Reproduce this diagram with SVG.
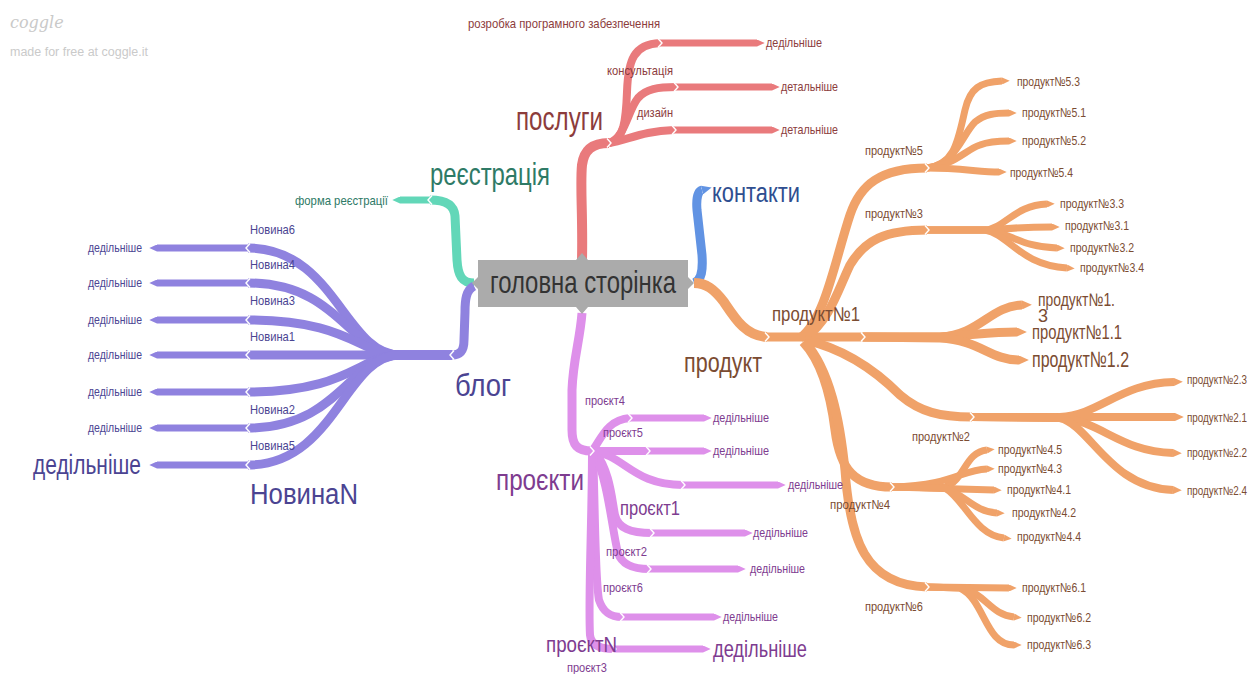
<svg xmlns="http://www.w3.org/2000/svg" width="1259" height="674" viewBox="0 0 1259 674">
<defs>
<style>
.br{fill:none;stroke-linecap:butt;stroke-linejoin:round}
.red{stroke:#e97a7c}.teal{stroke:#62d7b8}.pur{stroke:#8f82df}.vio{stroke:#de90ea}.blue{stroke:#6193e3}.org{stroke:#f0a269}
.w10{stroke-width:10}.w9{stroke-width:9}.w8{stroke-width:8}.w7{stroke-width:7}.w6{stroke-width:6}
text{font-family:"Liberation Sans Narrow","Liberation Sans",Arial,sans-serif}
.s{font-size:13px}
.cR{fill:#8c3c3c}.cT{fill:#2e7a66}.cP{fill:#4b4492}.cV{fill:#7e3c90}.cB{fill:#2f4e90}.cO{fill:#7b4c32}
.notch{fill:none;stroke:#fff;stroke-width:1.4}
</style>
<marker id="mR" viewBox="0 0 10 10" refX="0" refY="5" markerWidth="1.1" markerHeight="1" preserveAspectRatio="none" orient="auto"><path d="M0,0L10,5L0,10z" fill="#e97a7c"/></marker>
<marker id="mT" viewBox="0 0 10 10" refX="0" refY="5" markerWidth="1.1" markerHeight="1" preserveAspectRatio="none" orient="auto"><path d="M0,0L10,5L0,10z" fill="#62d7b8"/></marker>
<marker id="mP" viewBox="0 0 10 10" refX="0" refY="5" markerWidth="1.1" markerHeight="1" preserveAspectRatio="none" orient="auto"><path d="M0,0L10,5L0,10z" fill="#8f82df"/></marker>
<marker id="mV" viewBox="0 0 10 10" refX="0" refY="5" markerWidth="1.1" markerHeight="1" preserveAspectRatio="none" orient="auto"><path d="M0,0L10,5L0,10z" fill="#de90ea"/></marker>
<marker id="mB" viewBox="0 0 10 10" refX="0" refY="5" markerWidth="1.1" markerHeight="1" preserveAspectRatio="none" orient="auto"><path d="M0,0L10,5L0,10z" fill="#6193e3"/></marker>
<marker id="mO" viewBox="0 0 10 10" refX="0" refY="5" markerWidth="1.1" markerHeight="1" preserveAspectRatio="none" orient="auto"><path d="M0,0L10,5L0,10z" fill="#f0a269"/></marker>
<path id="chR" class="notch" d="M-2,-4.5L2,0L-2,4.5"/>
<path id="chL" class="notch" d="M2,-4.5L-2,0L2,4.5"/>
</defs>
<rect width="1259" height="674" fill="#fff"/>

<g id="watermark">
<text x="10" y="28" font-size="16" font-style="italic" fill="#c9c9c9" style="font-family:'DejaVu Serif',serif">coggle</text>
<text x="10" y="56" font-size="12" fill="#cacaca" textLength="138" lengthAdjust="spacingAndGlyphs">made for free at coggle.it</text>
</g>

<g id="connectors">
<!-- послуги -->
<path class="br red w10" d="M582,260 C583,215 580,185 582,165 C584,150 592,143 609,143"/>
<path class="br red w8" d="M609,143 C624,140 626,120 627,92 C628,60 634,44 660,43"/>
<path class="br red w7" d="M660,43 L757,43" marker-end="url(#mR)"/>
<path class="br red w8" d="M609,143 C625,138 628,110 638,98 C646,89 658,87 676,87"/>
<path class="br red w7" d="M676,87 L772,87" marker-end="url(#mR)"/>
<path class="br red w8" d="M609,143 C628,140 642,131 674,130"/>
<path class="br red w7" d="M674,130 L772,130" marker-end="url(#mR)"/>
<!-- реєстрація -->
<path class="br teal w9" d="M474,283 C462,283 458,276 457,260 L455,216 C454,205 446,200 430,200"/>
<path class="br teal w7" d="M430,200 L400,200" marker-end="url(#mT)"/>
<!-- блог -->
<path class="br pur w9" d="M474,286 C466,290 465,300 465,312 L464,340 C464,350 461,355 452,355"/>
<path class="br pur w9" d="M452,355 L400,355 C345,355 335,248 248,248"/>
<path class="br pur w9" d="M452,355 L400,355 C350,355 340,283 248,283"/>
<path class="br pur w9" d="M452,355 L400,355 C360,355 350,320 248,320"/>
<path class="br pur w9" d="M452,355 L248,355"/>
<path class="br pur w9" d="M452,355 L400,355 C360,355 350,392 248,392"/>
<path class="br pur w9" d="M452,355 L400,355 C350,355 340,428 248,428"/>
<path class="br pur w9" d="M452,355 L400,355 C345,355 335,465 248,465"/>
<path class="br pur w7" d="M248,248 L157,248" marker-end="url(#mP)"/>
<path class="br pur w7" d="M248,283 L157,283" marker-end="url(#mP)"/>
<path class="br pur w7" d="M248,320 L157,320" marker-end="url(#mP)"/>
<path class="br pur w7" d="M248,355 L157,355" marker-end="url(#mP)"/>
<path class="br pur w7" d="M248,392 L157,392" marker-end="url(#mP)"/>
<path class="br pur w7" d="M248,428 L157,428" marker-end="url(#mP)"/>
<path class="br pur w7" d="M248,465 L157,465" marker-end="url(#mP)"/>
<!-- контакти -->
<path class="br blue w9" d="M694,283 C702,280 703,270 702,255 L697,210 C696,198 698,191 702,190" marker-end="url(#mB)"/>
<!-- проєкти -->
<path class="br vio w9" d="M582,313 C580,340 573,360 572,390 L572,430 C572,445 577,451 592,451"/>
<path class="br vio w8" d="M592,451 C601,440 606,420 630,418"/>
<path class="br vio w7" d="M630,418 L704,418" marker-end="url(#mV)"/>
<path class="br vio w8" d="M592,451 L648,451"/>
<path class="br vio w7" d="M648,451 L704,451" marker-end="url(#mV)"/>
<path class="br vio w8" d="M592,451 C625,455 632,485 683,485"/>
<path class="br vio w7" d="M683,485 L778,485" marker-end="url(#mV)"/>
<path class="br vio w8" d="M595,452 C610,470 612,500 615,515 C618,528 630,533 652,533"/>
<path class="br vio w7" d="M652,533 L745,533" marker-end="url(#mV)"/>
<path class="br vio w8" d="M594,452 C608,480 612,530 618,553 C622,565 633,569 649,569"/>
<path class="br vio w7" d="M649,569 L738,569" marker-end="url(#mV)"/>
<path class="br vio w8" d="M593,452 C595,500 595,580 599,600 C603,612 610,617 622,617"/>
<path class="br vio w7" d="M622,617 L714,617" marker-end="url(#mV)"/>
<path class="br vio w8" d="M592,452 C592,520 588,600 590,635 C591,645 600,649 614,649"/>
<path class="br vio w7" d="M614,649 L703,649" marker-end="url(#mV)"/>
<!-- продукт -->
<path class="br org w10" d="M694,283 C706,283 714,289 724,302 C736,320 746,336 767,337"/>
<path class="br org w9" d="M767,337 L863,337"/>
<!-- №5 -->
<path class="br org w9" d="M800,338 C825,320 835,260 850,215 C860,185 880,168 927,168"/>
<path class="br org w7" d="M927,168 C955,165 958,140 965,110 C970,88 980,82 1002,81" marker-end="url(#mO)"/>
<path class="br org w7" d="M927,168 C955,165 962,135 975,122 C985,114 995,113 1009,113" marker-end="url(#mO)"/>
<path class="br org w7" d="M927,168 C955,165 965,150 980,145 C990,141 1000,141 1009,141" marker-end="url(#mO)"/>
<path class="br org w7" d="M927,168 C960,168 980,172 999,172" marker-end="url(#mO)"/>
<!-- №3 -->
<path class="br org w9" d="M805,338 C830,320 838,290 850,265 C865,240 885,230 927,230"/>
<path class="br org w7" d="M927,230 L985,230 C1005,228 1015,205 1047,204" marker-end="url(#mO)"/>
<path class="br org w7" d="M927,230 L990,230 C1010,228 1030,227 1052,227" marker-end="url(#mO)"/>
<path class="br org w7" d="M927,230 L985,230 C1010,232 1020,247 1057,248" marker-end="url(#mO)"/>
<path class="br org w7" d="M927,230 L985,230 C1010,235 1020,265 1067,268" marker-end="url(#mO)"/>
<!-- №1 -->
<path class="br org w9" d="M863,337 L940,337 C980,335 990,306 1022,305" marker-end="url(#mO)"/>
<path class="br org w9" d="M863,337 L940,337 C975,335 990,332 1017,332" marker-end="url(#mO)"/>
<path class="br org w9" d="M863,337 L940,338 C980,340 990,360 1019,360" marker-end="url(#mO)"/>
<!-- №2 -->
<path class="br org w9" d="M805,340 C850,350 880,375 900,395 C920,412 940,417 972,417"/>
<path class="br org w8" d="M972,417 L1060,417 C1100,415 1120,383 1174,382" marker-end="url(#mO)"/>
<path class="br org w8" d="M972,417 L1175,417" marker-end="url(#mO)"/>
<path class="br org w8" d="M972,417 L1060,418 C1100,420 1120,452 1173,453" marker-end="url(#mO)"/>
<path class="br org w8" d="M972,417 L1060,418 C1090,425 1110,488 1173,490" marker-end="url(#mO)"/>
<!-- №4 -->
<path class="br org w9" d="M803,342 C820,360 830,390 835,430 C840,470 855,487 892,487"/>
<path class="br org w7" d="M892,487 L945,487 C965,480 965,452 987,450" marker-end="url(#mO)"/>
<path class="br org w7" d="M892,487 C955,485 960,470 987,469" marker-end="url(#mO)"/>
<path class="br org w7" d="M892,487 L994,490" marker-end="url(#mO)"/>
<path class="br org w7" d="M892,487 L945,488 C965,495 975,512 997,513" marker-end="url(#mO)"/>
<path class="br org w7" d="M892,487 L945,488 C965,500 975,535 1004,538" marker-end="url(#mO)"/>
<!-- №6 -->
<path class="br org w9" d="M805,342 C830,370 840,420 845,470 C850,540 865,585 927,587"/>
<path class="br org w7" d="M927,587 L1009,588" marker-end="url(#mO)"/>
<path class="br org w7" d="M927,587 L960,588 C985,592 990,615 1014,617" marker-end="url(#mO)"/>
<path class="br org w7" d="M927,587 L960,588 C985,600 985,645 1014,645" marker-end="url(#mO)"/>
<!-- notches -->
<use href="#chR" x="609" y="143"/><use href="#chR" x="660" y="43"/><use href="#chR" x="676" y="87"/><use href="#chR" x="674" y="130"/>
<use href="#chL" x="430" y="200"/><use href="#chL" x="452" y="355"/>
<use href="#chL" x="248" y="248"/><use href="#chL" x="248" y="283"/><use href="#chL" x="248" y="320"/><use href="#chL" x="248" y="355"/><use href="#chL" x="248" y="392"/><use href="#chL" x="248" y="428"/><use href="#chL" x="248" y="465"/>
<use href="#chR" x="592" y="451"/><use href="#chR" x="630" y="418"/><use href="#chR" x="648" y="451"/><use href="#chR" x="683" y="485"/><use href="#chR" x="652" y="533"/><use href="#chR" x="649" y="569"/><use href="#chR" x="622" y="617"/><use href="#chR" x="614" y="649"/>
<use href="#chR" x="767" y="337"/><use href="#chR" x="863" y="337"/><use href="#chR" x="927" y="168"/><use href="#chR" x="927" y="230"/><use href="#chR" x="972" y="417"/><use href="#chR" x="892" y="487"/><use href="#chR" x="927" y="587"/>
</g>

<g id="node-center">
<path d="M478,260 L576,260 L582,253 L588,260 L688,260 L688,277 L694,283 L688,289 L688,307 L588,307 L582,314 L576,307 L478,307 L478,289 L472,283 L478,277 Z" fill="#ababab"/>
<text x="490" y="293" font-size="32" fill="#333" textLength="186" lengthAdjust="spacingAndGlyphs">головна сторінка</text>
</g>

<g id="node-poslugy">
<text x="516" y="130" font-size="34" class="cR" textLength="87" lengthAdjust="spacingAndGlyphs">послуги</text>
<text x="468" y="28" class="s cR" textLength="192" lengthAdjust="spacingAndGlyphs">розробка програмного забезпечення</text>
<text x="607" y="75" class="s cR" textLength="66" lengthAdjust="spacingAndGlyphs">консультація</text>
<text x="637" y="117" class="s cR" textLength="36" lengthAdjust="spacingAndGlyphs">дизайн</text>
<text x="766" y="47" class="s cR" textLength="56" lengthAdjust="spacingAndGlyphs">дедільніше</text>
<text x="781" y="91" class="s cR" textLength="57" lengthAdjust="spacingAndGlyphs">детальніше</text>
<text x="781" y="134" class="s cR" textLength="57" lengthAdjust="spacingAndGlyphs">детальніше</text>
</g>

<g id="node-reestracia">
<text x="430" y="185" font-size="32" class="cT" textLength="120" lengthAdjust="spacingAndGlyphs">реєстрація</text>
<text x="295" y="205" class="s cT" textLength="93" lengthAdjust="spacingAndGlyphs">форма реєстрації</text>
</g>

<g id="node-blog">
<text x="455" y="396" font-size="32" class="cP" textLength="56" lengthAdjust="spacingAndGlyphs">блог</text>
<text x="250" y="234" class="s cP" textLength="45" lengthAdjust="spacingAndGlyphs">Новина6</text>
<text x="250" y="269" class="s cP" textLength="45" lengthAdjust="spacingAndGlyphs">Новина4</text>
<text x="250" y="305" class="s cP" textLength="45" lengthAdjust="spacingAndGlyphs">Новина3</text>
<text x="250" y="341" class="s cP" textLength="45" lengthAdjust="spacingAndGlyphs">Новина1</text>
<text x="250" y="414" class="s cP" textLength="45" lengthAdjust="spacingAndGlyphs">Новина2</text>
<text x="250" y="450" class="s cP" textLength="45" lengthAdjust="spacingAndGlyphs">Новина5</text>
<text x="250" y="504" font-size="30" class="cP" textLength="108" lengthAdjust="spacingAndGlyphs">НовинаN</text>
<text x="88" y="252" class="s cP" textLength="54" lengthAdjust="spacingAndGlyphs">дедільніше</text>
<text x="88" y="287" class="s cP" textLength="54" lengthAdjust="spacingAndGlyphs">дедільніше</text>
<text x="88" y="324" class="s cP" textLength="54" lengthAdjust="spacingAndGlyphs">дедільніше</text>
<text x="88" y="359" class="s cP" textLength="54" lengthAdjust="spacingAndGlyphs">дедільніше</text>
<text x="88" y="396" class="s cP" textLength="54" lengthAdjust="spacingAndGlyphs">дедільніше</text>
<text x="88" y="432" class="s cP" textLength="54" lengthAdjust="spacingAndGlyphs">дедільніше</text>
<text x="33" y="474" font-size="28" class="cP" textLength="108" lengthAdjust="spacingAndGlyphs">дедільніше</text>
</g>

<g id="node-kontakty">
<text x="712" y="202" font-size="28" class="cB" textLength="88" lengthAdjust="spacingAndGlyphs">контакти</text>
</g>

<g id="node-proekty">
<text x="496" y="490" font-size="30" class="cV" textLength="88" lengthAdjust="spacingAndGlyphs">проєкти</text>
<text x="585" y="405" class="s cV" textLength="40" lengthAdjust="spacingAndGlyphs">проєкт4</text>
<text x="603" y="437" class="s cV" textLength="40" lengthAdjust="spacingAndGlyphs">проєкт5</text>
<text x="620" y="515" font-size="20" class="cV" textLength="60" lengthAdjust="spacingAndGlyphs">проєкт1</text>
<text x="606" y="556" class="s cV" textLength="41" lengthAdjust="spacingAndGlyphs">проєкт2</text>
<text x="603" y="592" class="s cV" textLength="40" lengthAdjust="spacingAndGlyphs">проєкт6</text>
<text x="546" y="652" font-size="22" class="cV" textLength="71" lengthAdjust="spacingAndGlyphs">проєктN</text>
<text x="567" y="672" class="s cV" textLength="40" lengthAdjust="spacingAndGlyphs">проєкт3</text>
<text x="713" y="422" class="s cV" textLength="56" lengthAdjust="spacingAndGlyphs">дедільніше</text>
<text x="713" y="455" class="s cV" textLength="56" lengthAdjust="spacingAndGlyphs">дедільніше</text>
<text x="788" y="489" class="s cV" textLength="55" lengthAdjust="spacingAndGlyphs">дедільніше</text>
<text x="753" y="537" class="s cV" textLength="55" lengthAdjust="spacingAndGlyphs">дедільніше</text>
<text x="750" y="573" class="s cV" textLength="55" lengthAdjust="spacingAndGlyphs">дедільніше</text>
<text x="723" y="621" class="s cV" textLength="55" lengthAdjust="spacingAndGlyphs">дедільніше</text>
<text x="713" y="657" font-size="24" class="cV" textLength="94" lengthAdjust="spacingAndGlyphs">дедільніше</text>
</g>

<g id="node-produkt">
<text x="684" y="372" font-size="28" class="cO" textLength="78" lengthAdjust="spacingAndGlyphs">продукт</text>
<text x="772" y="321" font-size="20" class="cO" textLength="88" lengthAdjust="spacingAndGlyphs">продукт№1</text>
<text x="865" y="155" class="s cO" textLength="58" lengthAdjust="spacingAndGlyphs">продукт№5</text>
<text x="865" y="218" class="s cO" textLength="58" lengthAdjust="spacingAndGlyphs">продукт№3</text>
<text x="912" y="441" class="s cO" textLength="58" lengthAdjust="spacingAndGlyphs">продукт№2</text>
<text x="830" y="509" class="s cO" textLength="60" lengthAdjust="spacingAndGlyphs">продукт№4</text>
<text x="865" y="611" class="s cO" textLength="58" lengthAdjust="spacingAndGlyphs">продукт№6</text>
<text x="1017" y="86" class="s cO" textLength="63" lengthAdjust="spacingAndGlyphs">продукт№5.3</text>
<text x="1022" y="117" class="s cO" textLength="64" lengthAdjust="spacingAndGlyphs">продукт№5.1</text>
<text x="1022" y="145" class="s cO" textLength="64" lengthAdjust="spacingAndGlyphs">продукт№5.2</text>
<text x="1010" y="177" class="s cO" textLength="63" lengthAdjust="spacingAndGlyphs">продукт№5.4</text>
<text x="1060" y="208" class="s cO" textLength="64" lengthAdjust="spacingAndGlyphs">продукт№3.3</text>
<text x="1065" y="230" class="s cO" textLength="64" lengthAdjust="spacingAndGlyphs">продукт№3.1</text>
<text x="1070" y="252" class="s cO" textLength="64" lengthAdjust="spacingAndGlyphs">продукт№3.2</text>
<text x="1080" y="272" class="s cO" textLength="64" lengthAdjust="spacingAndGlyphs">продукт№3.4</text>
<text font-size="18" class="cO"><tspan x="1038" y="306" textLength="77" lengthAdjust="spacingAndGlyphs">продукт№1.</tspan><tspan x="1038" y="322">3</tspan></text>
<text x="1032" y="339" font-size="20" class="cO" textLength="90" lengthAdjust="spacingAndGlyphs">продукт№1.1</text>
<text x="1032" y="367" font-size="22" class="cO" textLength="97" lengthAdjust="spacingAndGlyphs">продукт№1.2</text>
<text x="1187" y="384" font-size="12" class="cO" textLength="60" lengthAdjust="spacingAndGlyphs">продукт№2.3</text>
<text x="1187" y="422" font-size="12" class="cO" textLength="60" lengthAdjust="spacingAndGlyphs">продукт№2.1</text>
<text x="1187" y="457" font-size="12" class="cO" textLength="60" lengthAdjust="spacingAndGlyphs">продукт№2.2</text>
<text x="1187" y="495" font-size="12" class="cO" textLength="60" lengthAdjust="spacingAndGlyphs">продукт№2.4</text>
<text x="998" y="454" class="s cO" textLength="64" lengthAdjust="spacingAndGlyphs">продукт№4.5</text>
<text x="998" y="473" class="s cO" textLength="64" lengthAdjust="spacingAndGlyphs">продукт№4.3</text>
<text x="1007" y="494" class="s cO" textLength="64" lengthAdjust="spacingAndGlyphs">продукт№4.1</text>
<text x="1012" y="517" class="s cO" textLength="64" lengthAdjust="spacingAndGlyphs">продукт№4.2</text>
<text x="1017" y="541" class="s cO" textLength="64" lengthAdjust="spacingAndGlyphs">продукт№4.4</text>
<text x="1022" y="592" class="s cO" textLength="64" lengthAdjust="spacingAndGlyphs">продукт№6.1</text>
<text x="1027" y="622" class="s cO" textLength="64" lengthAdjust="spacingAndGlyphs">продукт№6.2</text>
<text x="1027" y="649" class="s cO" textLength="64" lengthAdjust="spacingAndGlyphs">продукт№6.3</text>
</g>
</svg>
